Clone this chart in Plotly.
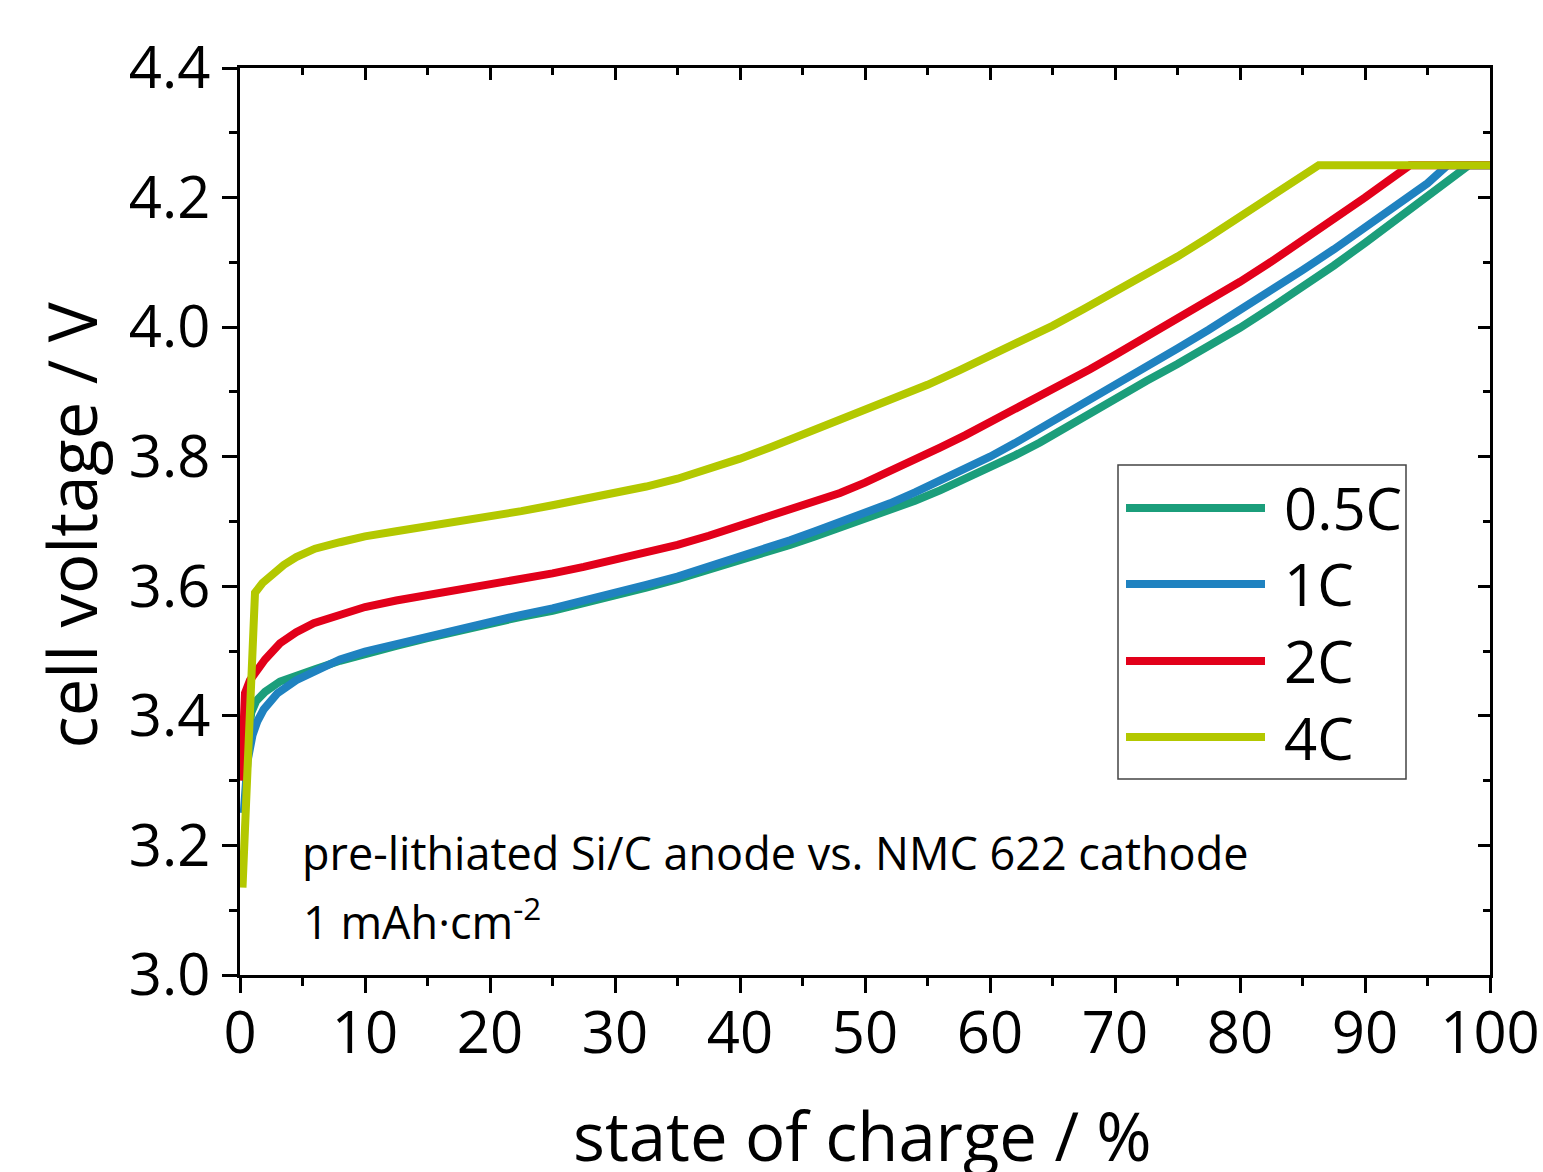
import plotly.graph_objects as go

FONT = "Open Sans"

names = ["0.5C", "1C", "2C", "4C"]
colors = ["#1b9e7b", "#1f82c0", "#e2001a", "#b3c800"]

soc_05 = [0.3, 0.6, 0.9, 1.3, 2, 3.2, 4.5, 6, 8, 10, 12.5, 15, 17.5, 20, 22.5, 25, 27.5, 30,
          32.5, 35, 37.5, 40, 42, 44, 46, 48, 50, 52, 54, 56, 58, 60, 62, 64, 66, 68, 70,
          72.5, 75, 77.5, 80, 82.5, 85, 87.5, 90, 92.5, 95, 97.5, 98.3, 100]
v_05 = [3.30, 3.37, 3.405, 3.423, 3.437, 3.453, 3.463, 3.472, 3.485, 3.496, 3.508, 3.52, 3.532,
        3.544, 3.553, 3.562, 3.573, 3.585, 3.598, 3.611, 3.625, 3.64, 3.652, 3.664, 3.677,
        3.690, 3.703, 3.717, 3.732, 3.748, 3.765, 3.783, 3.802, 3.822, 3.845, 3.868, 3.891,
        3.917, 3.943, 3.97, 3.999, 4.03, 4.062, 4.095, 4.13, 4.166, 4.202, 4.238, 4.25, 4.25]

soc_1 = [0.3, 0.6, 1.0, 1.4, 1.9, 3, 4.5, 6, 8, 10, 12.5, 15, 17.5, 20, 22.5, 25, 27.5, 30,
         32.5, 35, 37.5, 40, 42, 44, 46, 48, 50, 52, 54, 56, 58, 60, 62, 64, 66, 68, 70,
         72.5, 75, 77.5, 80, 82.5, 85, 87.5, 90, 92.5, 95, 96.6, 100]
v_1 = [3.25, 3.33, 3.37, 3.392, 3.41, 3.435, 3.455, 3.47, 3.487, 3.499, 3.511, 3.523, 3.535,
       3.547, 3.556, 3.566, 3.577, 3.589, 3.602, 3.615, 3.63, 3.645, 3.658, 3.671, 3.685,
       3.699, 3.713, 3.728, 3.745, 3.763, 3.781, 3.80, 3.821, 3.843, 3.866, 3.889, 3.912,
       3.939, 3.967, 3.996, 4.026, 4.056, 4.088, 4.12, 4.153, 4.187, 4.222, 4.25, 4.25]

soc_2 = [0.1, 0.4, 0.8, 1.35, 2, 3.2, 4.5, 5.9, 8, 10, 12.5, 15, 17.5, 20, 22.5, 25, 27.5, 30,
         32.5, 35, 37.5, 40, 42, 44, 46, 48, 50, 52, 54, 56, 58, 60, 62, 64, 66, 68, 70,
         72.5, 75, 77.5, 80, 82.5, 85, 87.5, 90, 92.5, 93.6, 100]
v_2 = [3.30, 3.435, 3.455, 3.47, 3.487, 3.512, 3.529, 3.543, 3.557, 3.568, 3.578, 3.586, 3.594,
       3.602, 3.611, 3.620, 3.630, 3.641, 3.652, 3.664, 3.678, 3.693, 3.705, 3.717, 3.730,
       3.744, 3.760, 3.777, 3.795, 3.814, 3.833, 3.853, 3.872, 3.892, 3.913, 3.935, 3.957,
       3.985, 4.012, 4.040, 4.070, 4.101, 4.133, 4.166, 4.200, 4.235, 4.25, 4.25]

soc_4 = [0.2, 1.2, 1.8, 2.6, 3.5, 4.5, 6, 8, 10, 12.5, 15, 17.5, 20, 22.5, 25, 27.5, 30, 32.5,
         35, 37.5, 40, 42.5, 45, 47.5, 50, 52.5, 55, 57.5, 60, 62.5, 65, 67.5, 70, 72.5, 75,
         77.5, 80, 82.5, 85, 86.3, 100]
v_4 = [3.135, 3.59, 3.605, 3.62, 3.633, 3.645, 3.658, 3.668, 3.677, 3.685, 3.692, 3.699, 3.707,
       3.716, 3.725, 3.734, 3.743, 3.754, 3.766, 3.781, 3.797, 3.815, 3.834, 3.853, 3.872,
       3.891, 3.911, 3.933, 3.955, 3.978, 4.002, 4.028, 4.054, 4.081, 4.109, 4.139, 4.170,
       4.201, 4.233, 4.25, 4.25]

series = [(soc_05, v_05), (soc_1, v_1), (soc_2, v_2), (soc_4, v_4)]

x_ticks = list(range(0, 101, 10))
y_ticks = [3.0, 3.2, 3.4, 3.6, 3.8, 4.0, 4.2, 4.4]

fig = go.Figure()
for (xs, ys), n, c in zip(series, names, colors):
    fig.add_trace(go.Scatter(x=xs, y=ys, mode="lines", name=n,
                             line=dict(color=c, width=8), showlegend=False))
# helper trace so the mirrored axes are drawn
fig.add_trace(go.Scatter(x=[None], y=[None], xaxis="x2", yaxis="y2",
                         showlegend=False, hoverinfo="skip"))

axis_common = dict(showgrid=False, zeroline=False, showline=True, automargin=False,
                   linecolor="black", linewidth=3, tickcolor="black",
                   tickwidth=3)

fig.update_layout(
    width=1543, height=1172,
    margin=dict(l=240, r=53, t=68, b=197),
    paper_bgcolor="white", plot_bgcolor="white",
    font=dict(family=FONT, color="black"),
    xaxis=dict(range=[0, 100], tickvals=x_ticks, ticks="outside", ticklen=15,
               tickfont=dict(size=58, family=FONT), ticklabelstandoff=-10,
               ticklabeloverflow="allow",
               minor=dict(dtick=5, ticks="outside", ticklen=8, tickwidth=3, tickcolor="black"),
               **axis_common),
    yaxis=dict(range=[3.0, 4.4], tickvals=y_ticks, tickformat=".1f",
               ticks="outside", ticklen=15,
               tickfont=dict(size=58, family=FONT),
               minor=dict(dtick=0.1, ticks="outside", ticklen=8, tickwidth=3, tickcolor="black"),
               **axis_common),
    xaxis2=dict(range=[0, 100], overlaying="x", side="top", anchor="y",
                tickvals=x_ticks, ticks="inside", ticklen=12, showticklabels=False,
                minor=dict(dtick=5, ticks="inside", ticklen=7, tickwidth=3, tickcolor="black"),
                **axis_common),
    yaxis2=dict(range=[3.0, 4.4], overlaying="y", side="right", anchor="x",
                tickvals=y_ticks, ticks="inside", ticklen=12, showticklabels=False,
                minor=dict(dtick=0.1, ticks="inside", ticklen=7, tickwidth=3, tickcolor="black"),
                **axis_common),
)

annotations = [
    dict(text="state of charge / %", xref="paper", yref="paper", x=0.4976, y=-0.1764,
         xanchor="center", yanchor="middle", showarrow=False, font=dict(size=67, family=FONT)),
    dict(text="cell voltage / V", xref="paper", yref="paper", x=-0.135, y=0.496,
         xanchor="center", yanchor="middle", textangle=-90, showarrow=False,
         font=dict(size=67, family=FONT)),
    dict(text="pre-lithiated Si/C anode vs. NMC 622 cathode", xref="paper", yref="paper",
         x=0.048, y=0.1356, xanchor="left", yanchor="middle", showarrow=False,
         font=dict(size=45, family=FONT)),
    dict(text="1 mAh·cm<sup>-2</sup>", xref="paper", yref="paper",
         x=0.049, y=0.062, xanchor="left", yanchor="middle", showarrow=False,
         font=dict(size=45, family=FONT)),
]

# custom legend (long line samples like the reference)
leg_y = [0.5149, 0.4311, 0.3462, 0.2624]
shapes = [dict(type="rect", xref="paper", yref="paper", x0=0.7024, x1=0.9328,
               y0=0.2161, y1=0.5623, line=dict(color="#444444", width=1.5),
               fillcolor="white", layer="above")]
for n, c, yy in zip(names, colors, leg_y):
    shapes.append(dict(type="line", xref="paper", yref="paper", x0=0.7088, x1=0.82,
                       y0=yy, y1=yy, line=dict(color=c, width=8), layer="above"))
    annotations.append(dict(text=n, xref="paper", yref="paper", x=0.8336, y=yy,
                            xanchor="left", yanchor="middle", showarrow=False,
                            font=dict(size=58, family=FONT)))

fig.update_layout(annotations=annotations, shapes=shapes)

# remove the default page margin so the 1543x1172 figure fills the window exactly
fig.write_html("out.html", config={"displayModeBar": False},
               post_script="document.body.style.margin='0px';document.body.style.overflow='hidden';")
